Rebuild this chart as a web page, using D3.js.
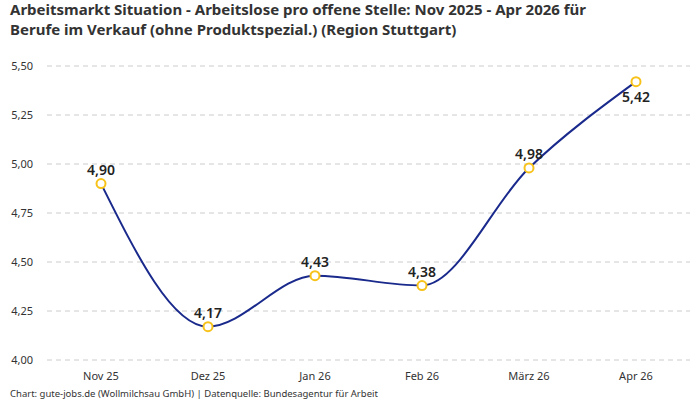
<!DOCTYPE html><html><head><meta charset="utf-8">
<script src="https://cdn.jsdelivr.net/npm/d3@7"></script>
<style>body{margin:0;background:#fff}svg{font-family:"Noto Sans",Roboto,sans-serif}</style></head><body>
<svg id="c" width="700" height="400"></svg>
<script>
const categories=["Nov 25","Dez 25","Jan 26","Feb 26","März 26","Apr 26"];
const values=[4.90,4.17,4.43,4.38,4.98,5.42];
const yTicks=[4.00,4.25,4.50,4.75,5.00,5.25,5.50];
const svg=d3.select("#c");
const x=d3.scalePoint().domain(categories).range([47.5,689.5]).padding(0.5);
const y=d3.scaleLinear().domain([4,5.5]).range([360,66]);
const fmt=v=>v.toFixed(2).replace(".",",");
svg.append("text").attr("x",10).attr("y",15).attr("font-size",15).attr("font-weight","bold").attr("fill","#333").text("Arbeitsmarkt Situation - Arbeitslose pro offene Stelle: Nov 2025 - Apr 2026 für");
svg.append("text").attr("x",10).attr("y",35).attr("font-size",15).attr("font-weight","bold").attr("fill","#333").text("Berufe im Verkauf (ohne Produktspezial.) (Region Stuttgart)");
const g=svg.append("g");
yTicks.forEach(t=>{
 g.append("line").attr("x1",47).attr("x2",690).attr("y1",y(t)).attr("y2",y(t)).attr("stroke","#ccc").attr("stroke-dasharray","5,4");
 g.append("text").attr("x",33).attr("y",y(t)+4).attr("text-anchor","end").attr("font-size",11).attr("fill","#333").text(fmt(t));
});
categories.forEach(c=>g.append("text").attr("x",x(c)).attr("y",380).attr("text-anchor","middle").attr("font-size",11).attr("fill","#333").text(c));
const data=categories.map((c,i)=>({c,v:values[i]}));
g.append("path").datum(data).attr("fill","none").attr("stroke","#1a2a8c").attr("stroke-width",2)
 .attr("d",d3.line().x(d=>x(d.c)).y(d=>y(d.v)).curve(d3.curveMonotoneX));
g.selectAll("circle").data(data).join("circle").attr("cx",d=>x(d.c)).attr("cy",d=>y(d.v)).attr("r",4.5)
 .attr("fill","#fff").attr("stroke","#f7c21a").attr("stroke-width",2);
g.selectAll(".lbl").data(data).join("text").attr("x",d=>x(d.c)).attr("y",(d,i)=>i===data.length-1?y(d.v)+20:y(d.v)-9)
 .attr("text-anchor","middle").attr("font-size",14).attr("font-weight",600).attr("fill","#222").text(d=>fmt(d.v));
svg.append("text").attr("x",10).attr("y",397).attr("font-size",9.5).attr("fill","#333").text("Chart: gute-jobs.de (Wollmilchsau GmbH) | Datenquelle: Bundesagentur für Arbeit");
</script></body></html>
